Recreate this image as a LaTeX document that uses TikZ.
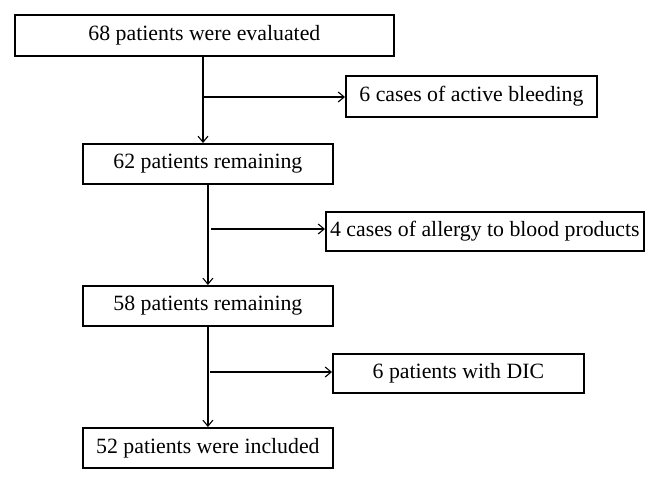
\documentclass[tikz,border=0pt]{standalone}
\usepackage{fontspec}
\setmainfont{Liberation Serif}
\usetikzlibrary{arrows.meta}
\begin{document}
\begin{tikzpicture}[x=1pt,y=-1pt,
  box/.style={draw=black, line width=1.8pt, inner sep=0pt, anchor=north west,
    font=\fontsize{21.8}{25}\selectfont, align=center},
  conn/.style={line width=1.2pt, -{Straight Barb[length=6pt,width=10pt,line width=1.1pt]}}]
\useasboundingbox (0,0) rectangle (658,482);
% boxes
\node[box, minimum width=379pt, minimum height=41pt] (b1) at (14,14) {68 patients were evaluated};
\node[box, minimum width=251pt, minimum height=41pt] (b2) at (345,75) {6 cases of active bleeding};
\node[box, minimum width=250pt, minimum height=40pt] (b3) at (82,143) {62 patients remaining};
\node[box, minimum width=318pt, minimum height=39pt] (b4) at (325,211) {4 cases of allergy to blood products};
\node[box, minimum width=250pt, minimum height=40pt] (b5) at (82,285) {58 patients remaining};
\node[box, minimum width=251pt, minimum height=39pt] (b6) at (332,353) {6 patients with DIC};
\node[box, minimum width=250pt, minimum height=40pt] (b7) at (82,427) {52 patients were included};
% branch points
\coordinate (t1) at (203,55);
\coordinate (j1) at (203,97);
\coordinate (s2) at (211,229);
\coordinate (s3) at (210,372);
% connectors
\draw[conn] (t1) -- (t1 |- b3.north);
\draw[conn] (j1) -- (j1 -| b2.west);
\draw[conn] (b3.south) -- (b5.north);
\draw[conn] (s2) -- (s2 -| b4.west);
\draw[conn] (b5.south) -- (b7.north);
\draw[conn] (s3) -- (s3 -| b6.west);
\end{tikzpicture}
\end{document}
